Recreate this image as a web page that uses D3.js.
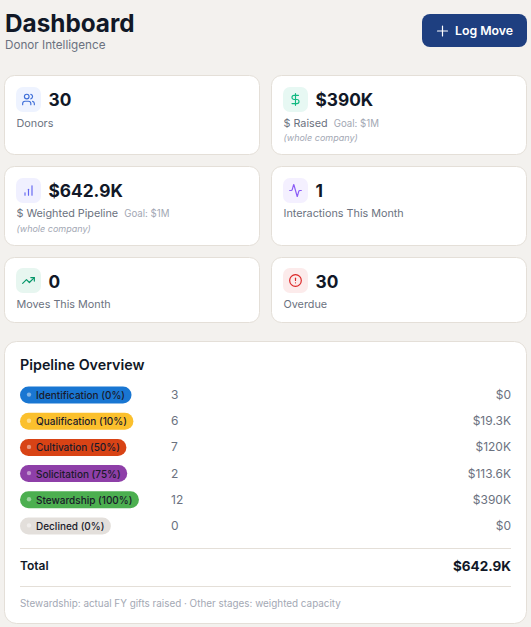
<!DOCTYPE html>
<html>
<head>
<meta charset="utf-8">
<script src="https://cdn.jsdelivr.net/npm/d3@7"></script>
<style>
html, body { margin: 0; padding: 0; background: #f3f1ee; overflow: hidden; }
text { font-family: Inter, sans-serif; }
</style>
</head>
<body>
<script>
// pipeline table
var stages = ["Identification (0%)", "Qualification (10%)", "Cultivation (50%)", "Solicitation (75%)", "Stewardship (100%)", "Declined (0%)"];
var counts = [3, 6, 7, 2, 12, 0];
var amounts = ["$0", "$19.3K", "$120K", "$113.6K", "$390K", "$0"];
var stageColors = ["#1976d2", "#fbc02d", "#d84315", "#8e3fa8", "#4caf50", "#e3dfdb"];

// stat cards
var statValues = ["30", "$390K", "$642.9K", "1", "0", "30"];
var statLabels = ["Donors", "$ Raised", "$ Weighted Pipeline", "Interactions This Month", "Moves This Month", "Overdue"];
var statGoals = ["", "Goal: $1M", "Goal: $1M", "", "", ""];
var statNotes = ["", "(whole company)", "(whole company)", "", "", ""];
var iconBacks = ["#eef3ff", "#e7f8f3", "#f0f0ff", "#f4f0ff", "#e7f6f0", "#fcebeb"];
var iconColors = ["#3f6fd8", "#10b981", "#6366f1", "#8b5cf6", "#059669", "#dc2626"];
var iconPaths = [
  ["M16 21v-2a4 4 0 0 0-4-4H6a4 4 0 0 0-4 4v2", "M16 3.128a4 4 0 0 1 0 7.744", "M22 21v-2a4 4 0 0 0-3-3.87", "M13 7a4 4 0 1 1-8 0a4 4 0 1 1 8 0"],
  ["M12 2v20", "M17 5H9.5a3.5 3.5 0 0 0 0 7h5a3.5 3.5 0 0 1 0 7H6"],
  ["M12 20V10", "M18 20V4", "M6 20v-4"],
  ["M22 12h-2.48a2 2 0 0 0-1.93 1.46l-2.35 8.36a.25.25 0 0 1-.48 0L9.24 2.18a.25.25 0 0 0-.48 0l-2.35 8.36A2 2 0 0 1 4.49 12H2"],
  ["M16 7h6v6", "M22 7l-8.5 8.5-5-5L2 17"],
  ["M22 12a10 10 0 1 1-20 0a10 10 0 1 1 20 0", "M12 8v4", "M12 16h.01"]
];

var width = 531;
var height = 627;
var border = "#e4dfd8";
var ink = "#111827";
var grey = "#6b7280";
var light = "#a3a8b4";

var svg = d3.select("body").append("svg")
  .attr("width", width)
  .attr("height", height)
  .style("display", "block");

// header
svg.append("text").attr("x", 5).attr("y", 32).attr("font-size", 24.3).attr("font-weight", 700).attr("fill", ink).text("Dashboard");
svg.append("text").attr("x", 5).attr("y", 49).attr("font-size", 11.7).attr("fill", grey).text("Donor Intelligence");

var btn = svg.append("g");
btn.append("rect").attr("x", 422).attr("y", 14).attr("width", 105).attr("height", 33).attr("rx", 8).attr("fill", "#1e3f80");
btn.append("path").attr("d", "M442.5 26v10M437.5 31h10").attr("stroke", "#fff").attr("stroke-width", 1.2).attr("stroke-linecap", "round");
btn.append("text").attr("x", 455).attr("y", 35).attr("font-size", 12.3).attr("font-weight", 600).attr("fill", "#fff").text("Log Move");

// cards
var cardW = 255;
var cardX = [4.5, 271.5];
var cardTops = [75.5, 166.5, 257.5];
var cardHs = [79, 79, 65];
var labelY = [51, 50, 50.5];
var cards = d3.range(6);

var card = svg.selectAll("g.card").data(cards).enter().append("g")
  .attr("class", "card")
  .attr("transform", function(i) { return "translate(" + cardX[i % 2] + "," + cardTops[Math.floor(i / 2)] + ")"; });

card.append("rect")
  .attr("width", cardW)
  .attr("height", function(i) { return cardHs[Math.floor(i / 2)]; })
  .attr("rx", 10)
  .attr("fill", "#fff")
  .attr("stroke", border);

card.append("rect")
  .attr("x", 11.5).attr("y", function(i) { return i > 3 ? 10.5 : 11.5; })
  .attr("width", 25).attr("height", 25).attr("rx", 7)
  .attr("fill", function(i) { return iconBacks[i]; });

card.append("g")
  .attr("transform", function(i) { return "translate(17," + (i > 3 ? 16 : 17) + ") scale(0.583)"; })
  .attr("fill", "none")
  .attr("stroke", function(i) { return iconColors[i]; })
  .attr("stroke-width", 2)
  .attr("stroke-linecap", "round")
  .attr("stroke-linejoin", "round")
  .selectAll("path")
  .data(function(i) { return iconPaths[i]; })
  .enter().append("path")
  .attr("d", function(d) { return d; });

card.append("text")
  .attr("x", 44).attr("y", 30)
  .attr("font-size", 17.3).attr("font-weight", 700).attr("fill", ink)
  .text(function(i) { return statValues[i]; });

var labels = card.append("text")
  .attr("x", 12).attr("y", function(i) { return labelY[Math.floor(i / 2)]; })
  .attr("font-size", 10.8).attr("fill", grey);
labels.append("tspan").text(function(i) { return statLabels[i]; });
labels.append("tspan")
  .attr("dx", 6).attr("font-size", 9.7).attr("fill", light)
  .text(function(i) { return statGoals[i]; });

card.append("text")
  .attr("x", 12).attr("y", 65)
  .attr("font-size", 9).attr("font-style", "italic").attr("fill", light)
  .text(function(i) { return statNotes[i]; });

// pipeline panel
svg.append("rect").attr("x", 4.5).attr("y", 341.5).attr("width", 522).attr("height", 282).attr("rx", 12).attr("fill", "#fff").attr("stroke", border);
svg.append("text").attr("x", 20).attr("y", 370).attr("font-size", 14.3).attr("font-weight", 600).attr("fill", ink).text("Pipeline Overview");

var y = d3.scaleBand().domain(stages).range([382, 539]).padding(0);
var color = d3.scaleOrdinal().domain(stages).range(stageColors);

var row = svg.selectAll("g.row").data(stages).enter().append("g")
  .attr("class", "row")
  .attr("transform", function(d) { return "translate(0," + (y(d) + y.bandwidth() / 2) + ")"; });

var pill = row.append("rect")
  .attr("x", 20).attr("y", -8.5).attr("height", 17).attr("rx", 8.5)
  .attr("fill", function(d) { return color(d); });

row.append("circle")
  .attr("cx", 29).attr("cy", -0.5).attr("r", 2.2)
  .attr("fill", "#fff").attr("fill-opacity", 0.45);

var pillText = row.append("text")
  .attr("x", 36).attr("y", 4)
  .attr("font-size", 10).attr("font-weight", 500).attr("fill", "#1a1a2a")
  .text(function(d) { return d; });

pill.attr("width", function(d, i) { return pillText.nodes()[i].getComputedTextLength() + 22.5; });

row.append("text")
  .attr("x", 171).attr("y", 4)
  .attr("font-size", 12).attr("fill", grey)
  .text(function(d, i) { return counts[i]; });

row.append("text")
  .attr("x", 511).attr("y", 4).attr("text-anchor", "end")
  .attr("font-size", 12).attr("fill", grey)
  .text(function(d, i) { return amounts[i]; });

// total
svg.append("line").attr("x1", 20).attr("x2", 511).attr("y1", 548.5).attr("y2", 548.5).attr("stroke", border);
svg.append("text").attr("x", 20).attr("y", 570).attr("font-size", 12).attr("font-weight", 600).attr("fill", ink).text("Total");
svg.append("text").attr("x", 511).attr("y", 571).attr("text-anchor", "end").attr("font-size", 13.5).attr("font-weight", 700).attr("fill", ink).text("$642.9K");
svg.append("line").attr("x1", 20).attr("x2", 511).attr("y1", 586.5).attr("y2", 586.5).attr("stroke", border);
svg.append("text").attr("x", 20).attr("y", 606.5).attr("font-size", 9.9).attr("fill", light).text("Stewardship: actual FY gifts raised · Other stages: weighted capacity");
</script>
</body>
</html>
